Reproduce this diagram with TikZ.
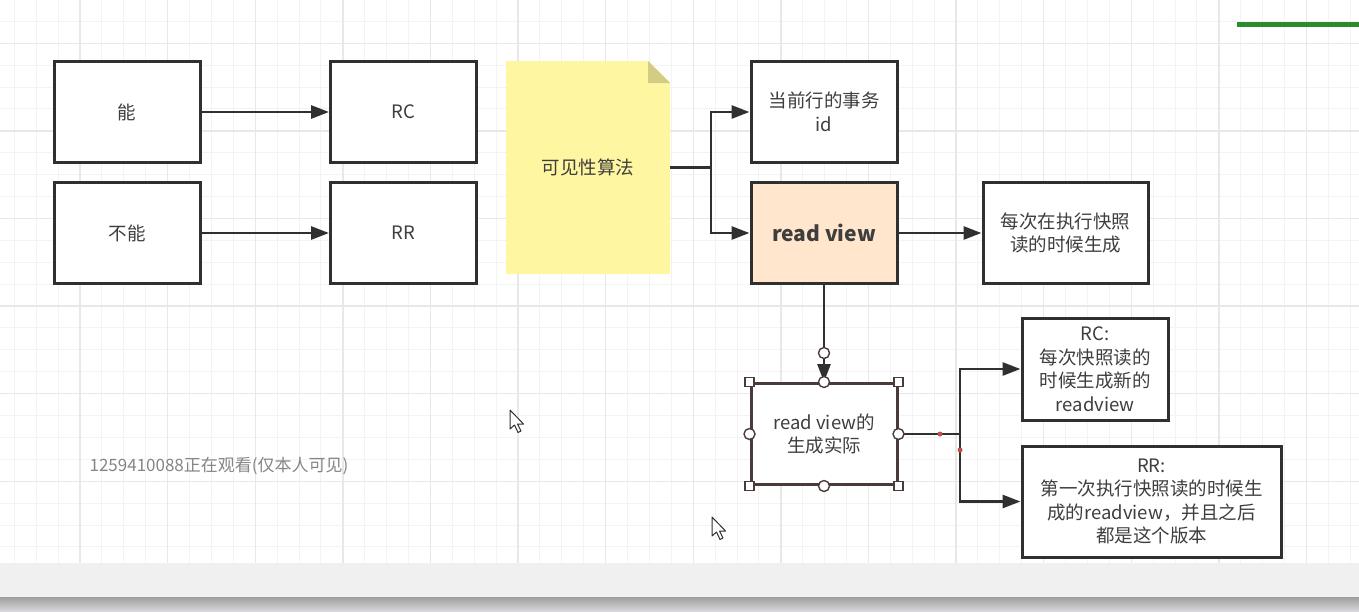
\documentclass[tikz,border=0pt]{standalone}
\usepackage{fontspec}
\setmainfont{Noto Sans CJK SC}
\usetikzlibrary{arrows.meta}
\definecolor{ink}{HTML}{303030}
\definecolor{txt}{HTML}{3E3E3E}
\definecolor{notefill}{HTML}{FFF6A1}
\definecolor{notefold}{HTML}{D3CC84}
\definecolor{viewfill}{HTML}{FFE6CC}
\definecolor{pick}{HTML}{4B3A3A}
\definecolor{gridfine}{HTML}{F3F3F3}
\definecolor{gridbold}{HTML}{E8E8E8}
\definecolor{dotred}{HTML}{C0504D}
\definecolor{barlight}{HTML}{F0F0F0}
\definecolor{bardark}{HTML}{9E9E9E}
\definecolor{barpale}{HTML}{D8D8DC}
\definecolor{tabgreen}{HTML}{2A8C2A}
\definecolor{viewer}{HTML}{858585}
\newcommand{\boxfontsize}{\fontsize{18.5}{23.5}\selectfont}
\tikzset{
  every picture/.style = {font=\boxfontsize, line join=miter},
  box/.style           = {draw=ink, line width=3pt, fill=white, text=txt, align=center,
                          inner sep=0pt, minimum width=146pt, minimum height=101pt},
  viewbox/.style       = {box, fill=viewfill, font=\fontsize{21}{25}\selectfont\bfseries},
  pickbox/.style       = {box, draw=pick},
  notebox/.style       = {text=txt, inner sep=0pt, minimum width=164pt, minimum height=213pt},
  edge/.style          = {draw=ink, line width=2.8pt, -{Triangle[length=18pt,width=13pt]}},
  grip/.style          = {draw=pick, line width=1.4pt, fill=white, inner sep=0pt, minimum size=9pt},
  knob/.style          = {grip, circle, minimum size=11pt},
  gridminor/.style     = {gridfine, line width=1pt},
  gridmajor/.style     = {gridbold, line width=1.4pt},
  pointer/.style       = {draw=ink, line width=1pt, fill=white, line join=round},
  onlooker/.style      = {text=viewer, font=\fontsize{17}{19}\selectfont, inner sep=0pt},
}

\begin{document}
\begin{tikzpicture}[x=1pt, y=-1pt]
  \useasboundingbox (0,0) rectangle (1359,611);
  \def\G{21.9}\def\Gx{-7.6}\def\Gy{-0.6}   % grid pitch and offsets
  \def\Nx{506}\def\Ny{61}\def\Nw{164}\def\Nh{213}\def\Nf{22}   % the note, and its fold

  % ---------- canvas -------------------------------------------------------
  \foreach \k in {1,...,62} \draw[gridminor] ({\Gx+\G*\k},0) -- ++(0,563);
  \foreach \k in {1,...,25} \draw[gridminor] (0,{\Gy+\G*\k}) -- ++(1359,0);
  \foreach \k in {1,...,15} \draw[gridmajor] ({\Gx+4*\G*\k},0) -- ++(0,563);
  \foreach \k in {0,...,5}  \draw[gridmajor] (0,{\Gy+2*\G+4*\G*\k}) -- ++(1359,0);
  \fill[barlight] (0,563) rectangle (1359,597);
  \shade[top color=bardark, bottom color=barpale] (0,597) rectangle (1359,611);
  \draw[tabgreen, line width=5pt] (1237,24.5) -- (1359,24.5);

  % ---------- left: the two isolation levels -------------------------------
  \node[box] (neng)   at (127,112)   {能};
  \node[box] (buneng) at (127,233)   {不能};
  \node[box] (rc)     at (403.5,112) {RC};
  \node[box] (rr)     at (403.5,233) {RR};
  \draw[edge] (neng.east)   -- (rc.west);
  \draw[edge] (buneng.east) -- (rr.west);

  % ---------- middle: the note and what it splits into ---------------------
  \fill[notefill] (\Nx,\Ny) -- ++({\Nw-\Nf},0) -- ++(\Nf,\Nf) -- ++(0,{\Nh-\Nf}) -- ++(-\Nw,0) -- cycle;
  \fill[notefold] ({\Nx+\Nw-\Nf},\Ny) -- ++(0,\Nf) -- ++(\Nf,0) -- cycle;
  \node[notebox] (note) at ({\Nx+\Nw/2},{\Ny+\Nh/2}) {可见性算法};

  \node[box]     (txid)  at (824,112)    {当前行的事务\\id};
  \node[viewbox] (rview) at (824,233)    {read view};
  \node[box, minimum width=165pt] (gen) at (1065.5,233) {每次在执行快照\\读的时候生成};

  \coordinate (fork) at (711,167.5);
  \draw[edge] (note.east) -- (fork) |- (txid.west);
  \draw[edge] (fork) |- (rview.west);
  \draw[edge] (rview.east) -- (gen.west);

  % ---------- bottom: how the read view is made, box still selected --------
  \node[pickbox] (rvgen) at (824,434) {read view的\\生成实际};
  \node[box, minimum height=102pt] (rcnew) at (1095,369)
    {RC:\\每次快照读的\\时候生成新的\\readview};
  \node[box, minimum width=259pt, minimum height=111pt] (rrfirst) at (1151.5,501.5)
    {RR:\\第一次执行快照读的时候生\\成的readview，并且之后\\都是这个版本};

  \draw[edge] (rview.south) -- (rvgen.north);
  \node[knob] (endknob) at (824,353) {};

  \coordinate (split) at (960,434);
  \draw[edge] (rvgen.east) -- (split) |- (rcnew.west);
  \draw[edge] (split) |- (rrfirst.west);
  \fill[dotred] (940,434) circle (2.5);
  \fill[dotred] (960,450) circle (2.5);

  % selection handles round the picked box
  \foreach \a in {north west, north east, south west, south east}
    \node[grip] (grip \a) at (rvgen.\a) {};
  \foreach \a in {north, south, east, west}
    \node[knob] (knob \a) at (rvgen.\a) {};

  % ---------- screen leftovers ---------------------------------------------
  \node[onlooker] (watcher) at (219,466) {1259410088正在观看(仅本人可见)};
  \draw[pointer, shift={(510,410)}] (0,0) -- (0,19) -- (4.5,15) -- (8,22.5) -- (11,21) -- (7.5,14) -- (13.5,14) -- cycle;
  \draw[pointer, shift={(712,517)}] (0,0) -- (0,19) -- (4.5,15) -- (8,22.5) -- (11,21) -- (7.5,14) -- (13.5,14) -- cycle;
\end{tikzpicture}
\end{document}
